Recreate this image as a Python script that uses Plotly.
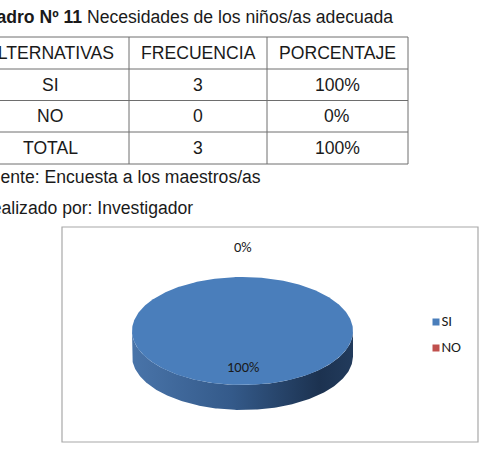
import numpy as np
import plotly.graph_objects as go

# ---- data ----
title_bold = "Cuadro Nº 11"
title_text = "Necesidades de los niños/as adecuada"
headers = ["ALTERNATIVAS", "FRECUENCIA", "PORCENTAJE"]
alternativas = ["SI", "NO", "TOTAL"]
frecuencia = [3, 0, 3]
porcentaje = ["100%", "0%", "100%"]
fuente = "Fuente: Encuesta a los maestros/as"
realizado = "Realizado por: Investigador"
pie_labels = ["SI", "NO"]
pie_values = [3, 0]
pie_colors = ["#4a7ebb", "#c0504d"]

W, H = 489, 457
TXT = "Liberation Sans, Arial, sans-serif"
CHF = "Carlito, Calibri, Lato, sans-serif"
TXT_SIZE = 17.6

fig = go.Figure()

# ---- table layout ----
col_edges = [-30, 129, 267, 408]
row_edges = [37, 69, 100.5, 132, 164]
shapes = []
for x in col_edges:
    shapes.append(dict(type="line", xref="x", yref="y", x0=x, x1=x, y0=row_edges[0], y1=row_edges[-1],
                       line=dict(color="#6e6e6e", width=1)))
for y in row_edges:
    shapes.append(dict(type="line", xref="x", yref="y", x0=col_edges[0], x1=col_edges[-1], y0=y, y1=y,
                       line=dict(color="#6e6e6e", width=1)))

annotations = []
col_centers = [50, 198, 337]
rows = [headers] + [[a, str(f), p] for a, f, p in zip(alternativas, frecuencia, porcentaje)]
for ri, row in enumerate(rows):
    yc = (row_edges[ri] + row_edges[ri + 1]) / 2
    for ci, val in enumerate(row):
        annotations.append(dict(x=col_centers[ci], y=yc, xref="x", yref="y", text=val, showarrow=False,
                                xanchor="center", yanchor="middle",
                                font=dict(family=TXT, size=TXT_SIZE, color="#1a1a1a")))

annotations.append(dict(x=395, y=17, xref="x", yref="y", text=f"<b>{title_bold}</b> {title_text}",
                        showarrow=False, xanchor="right", yanchor="middle",
                        font=dict(family=TXT, size=TXT_SIZE, color="#1a1a1a")))
annotations.append(dict(x=263, y=177, xref="x", yref="y", text=fuente, showarrow=False,
                        xanchor="right", yanchor="middle", font=dict(family=TXT, size=TXT_SIZE, color="#1a1a1a")))
annotations.append(dict(x=195, y=208, xref="x", yref="y", text=realizado, showarrow=False,
                        xanchor="right", yanchor="middle", font=dict(family=TXT, size=TXT_SIZE, color="#1a1a1a")))

# chart box
shapes.append(dict(type="rect", xref="x", yref="y", x0=62, x1=478, y0=227, y1=442,
                   line=dict(color="#a8a8a8", width=1.2), fillcolor="rgba(0,0,0,0)"))

# ---- 3D pie ----
cx, cy, rx, ry, depth = 242.5, 331, 110.5, 54, 25
total = sum(pie_values)
fracs = [v / total for v in pie_values]
starts = np.cumsum([0] + fracs[:-1]) * 2 * np.pi
ends = starts + np.array(fracs) * 2 * np.pi

def pt(theta, dy=0.0):
    return cx + rx * np.sin(theta), cy - ry * np.cos(theta) + dy

# side walls (front half: theta in [pi/2, 3pi/2])
for i, (s, e) in enumerate(zip(starts, ends)):
    a0, a1 = max(s, np.pi / 2), min(e, 3 * np.pi / 2)
    if a1 <= a0:
        continue
    th = np.linspace(a0, a1, 200)
    xt, yt = pt(th)
    xb, yb = pt(th[::-1], depth)
    fig.add_trace(go.Scatter(x=np.concatenate([xt, xb]), y=np.concatenate([yt, yb]),
                             mode="lines", fill="toself", line=dict(width=0),
                             fillgradient=dict(type="horizontal",
                                               colorscale=[[0, "#4974a9"], [0.45, "#345a8a"],
                                                           [0.85, "#1c3250"], [1, "#223b5c"]]),
                             hoverinfo="skip", showlegend=False))

# top faces
for i, (s, e) in enumerate(zip(starts, ends)):
    if e - s <= 0:
        continue
    th = np.linspace(s, e, 400)
    xs, ys = pt(th)
    if e - s < 2 * np.pi - 1e-9:
        xs = np.concatenate([[cx], xs, [cx]])
        ys = np.concatenate([[cy], ys, [cy]])
    fig.add_trace(go.Scatter(x=xs, y=ys, mode="lines", fill="toself", fillcolor=pie_colors[i],
                             line=dict(width=0), hoverinfo="skip", showlegend=False))

# data labels
for i, (s, e) in enumerate(zip(starts, ends)):
    mid = (s + e) / 2
    k = 0.67 if fracs[i] > 0 else 1.55
    lx, ly = cx + k * rx * np.sin(mid), cy - k * ry * np.cos(mid)
    annotations.append(dict(x=lx, y=ly, xref="x", yref="y", text=f"{fracs[i]*100:.0f}%",
                            showarrow=False, font=dict(family=CHF, size=14.5, color="#1a1a1a")))

# legend
leg_y = [322, 348]
for i, lab in enumerate(pie_labels):
    fig.add_trace(go.Scatter(x=[436], y=[leg_y[i]], mode="markers+text", text=[lab],
                             textposition="middle right",
                             textfont=dict(family=CHF, size=15, color="#1a1a1a"),
                             marker=dict(symbol="square", size=7, color=pie_colors[i]),
                             hoverinfo="skip", showlegend=False, cliponaxis=False))

fig.update_layout(
    width=W, height=H, margin=dict(l=0, r=0, t=0, b=0),
    paper_bgcolor="white", plot_bgcolor="white",
    xaxis=dict(range=[0, W], visible=False, fixedrange=True),
    yaxis=dict(range=[H, 0], visible=False, fixedrange=True),
    shapes=shapes, annotations=annotations, showlegend=False,
)
fig.write_html("out.html")
